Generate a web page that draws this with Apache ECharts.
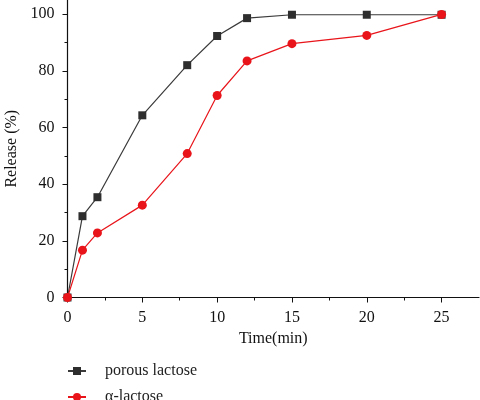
<!DOCTYPE html>
<html><head><meta charset="utf-8">
<script src="https://cdn.jsdelivr.net/npm/echarts@6/dist/echarts.min.js"></script>
<style>html,body{margin:0;padding:0;background:#fff}#c{width:480px;height:400px}</style>
</head><body><div id="c"></div>
<script>
const time = [0, 1, 2, 5, 8, 10, 12, 15, 20, 25];
const porous = [0, 28.7, 35.4, 64.3, 82.0, 92.3, 98.6, 99.8, 99.8, 99.8];
const alpha = [0, 16.7, 22.8, 32.6, 50.8, 71.3, 83.5, 89.6, 92.5, 99.9];
const seriesNames = ['porous lactose', 'α-lactose'];
const xTicks = [0, 5, 10, 15, 20, 25];
const yTicks = [0, 20, 40, 60, 80, 100];

const font = 'Liberation Serif';
const legendText = {fontFamily: font, fontSize: 16, color: '#222', padding: [0, 0, 0, 14]};
const chart = echarts.init(document.getElementById('c'));
chart.setOption({
  backgroundColor: '#fff',
  animation: false,
  textStyle: {fontFamily: font},
  grid: {left: 67.5, right: 1, top: 0, bottom: 102.5, containLabel: false, outerBoundsMode: 'none'},
  legend: [
    {left: 62, top: 358, itemWidth: 18, itemHeight: 10, textStyle: legendText, data: [seriesNames[0]]},
    {left: 62, top: 384, itemWidth: 18, itemHeight: 10, textStyle: legendText, data: [seriesNames[1]]}
  ],
  xAxis: {
    type: 'value', min: 0, max: 27.5,
    name: 'Time(min)', nameLocation: 'middle', nameGap: 32,
    nameTextStyle: {fontFamily: font, fontSize: 16, color: '#111'},
    axisLine: {show: true, lineStyle: {color: '#111', width: 1.2}},
    axisTick: {show: true, length: 5, customValues: xTicks, lineStyle: {color: '#111'}},
    minorTick: {show: true, splitNumber: 2, length: 3, lineStyle: {color: '#111'}},
    axisLabel: {customValues: xTicks, fontFamily: font, fontSize: 16, color: '#111', margin: 12},
    splitLine: {show: false}
  },
  yAxis: {
    type: 'value', min: 0, max: 105,
    name: 'Release (%)', nameLocation: 'middle', nameGap: 45,
    nameTextStyle: {fontFamily: font, fontSize: 16, color: '#111'},
    axisLine: {show: true, lineStyle: {color: '#111', width: 1.2}},
    axisTick: {show: true, length: 5, customValues: yTicks, lineStyle: {color: '#111'}},
    minorTick: {show: true, splitNumber: 2, length: 3, lineStyle: {color: '#111'}},
    axisLabel: {customValues: yTicks, fontFamily: font, fontSize: 16, color: '#111', margin: 13},
    splitLine: {show: false}
  },
  series: [
    {
      name: seriesNames[0], type: 'line', data: time.map((t, i) => [t, porous[i]]),
      symbol: 'rect', symbolSize: 8,
      lineStyle: {color: '#3a3a3a', width: 1.2},
      itemStyle: {color: '#2e2e2e'}, z: 2
    },
    {
      name: seriesNames[1], type: 'line', data: time.map((t, i) => [t, alpha[i]]),
      symbol: 'circle', symbolSize: 9,
      lineStyle: {color: '#e8141a', width: 1.2},
      itemStyle: {color: '#e8141a'}, z: 3
    }
  ]
});
</script></body></html>
